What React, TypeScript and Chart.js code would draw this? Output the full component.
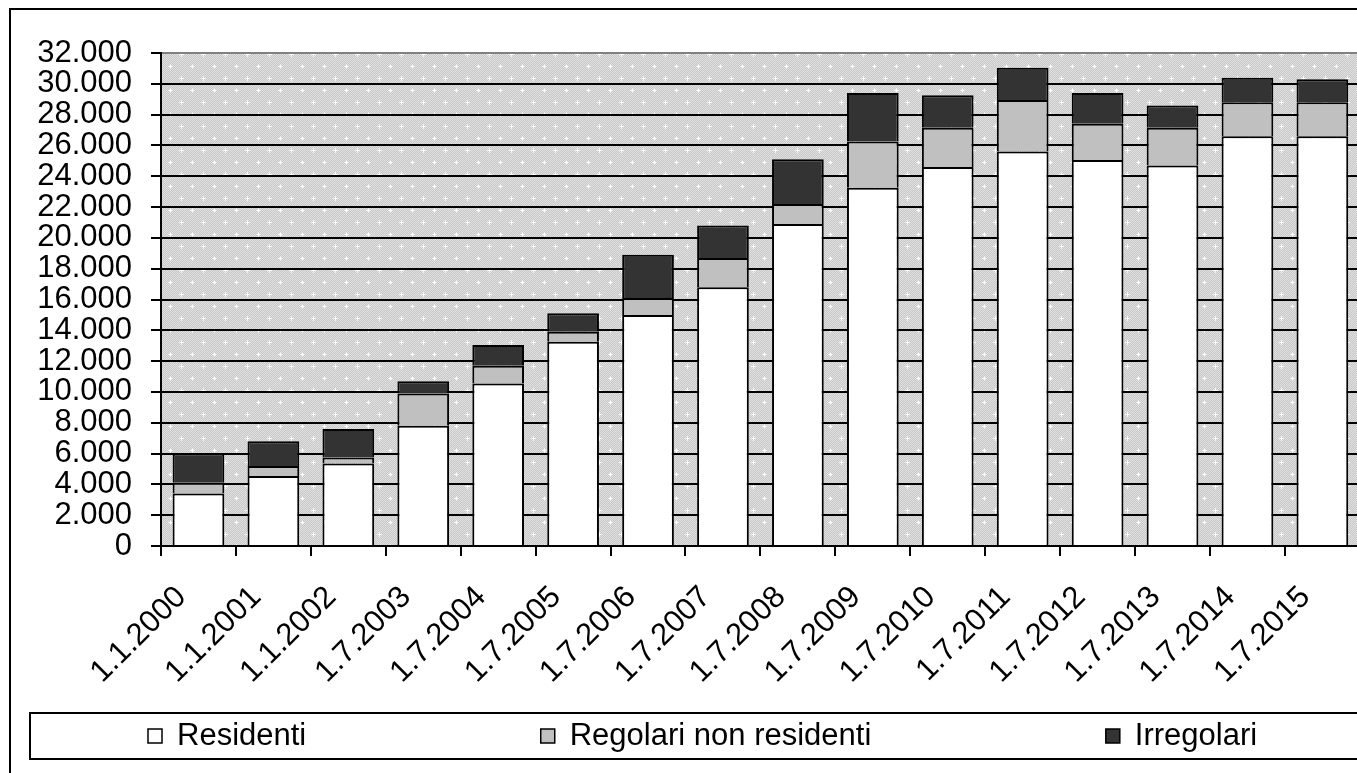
import React, { useEffect, useRef } from "react";
import { Chart, registerables } from "chart.js";

Chart.register(...registerables);

const categories = [
  "1.1.2000", "1.1.2001", "1.1.2002", "1.7.2003", "1.7.2004", "1.7.2005",
  "1.7.2006", "1.7.2007", "1.7.2008", "1.7.2009", "1.7.2010", "1.7.2011",
  "1.7.2012", "1.7.2013", "1.7.2014", "1.7.2015",
];
const residenti = [3400, 4550, 5350, 7800, 10550, 13250, 15000, 16800, 20900, 23250, 24600, 25600, 25050, 24700, 26600, 26600];
const regolariNonResidenti = [700, 650, 400, 2100, 1150, 650, 1100, 1900, 1300, 3000, 2550, 3350, 2350, 2450, 2200, 2200];
const irregolari = [1900, 1600, 1850, 800, 1350, 1200, 2800, 2100, 2900, 3150, 2100, 2100, 2000, 1450, 1600, 1500];
const seriesLabels = ["Residenti", "Regolari non residenti", "Irregolari"];
const seriesColors = ["#ffffff", "#c0c0c0", "#333333"];
const yMin = 0;
const yMax = 32000;
const yStep = 2000;

const FONT_FAMILY = '"Liberation Sans", Arial, sans-serif';
const FONT_SIZE = 31;

function formatThousands(v: number): string {
  return String(v).replace(/\B(?=(\d{3})+(?!\d))/g, ".");
}

function makePattern(ctx: CanvasRenderingContext2D): CanvasPattern | string {
  const c = document.createElement("canvas");
  c.width = 22;
  c.height = 24;
  const g = c.getContext("2d");
  if (!g) return "#d8d8d8";
  for (let y = 0; y < c.height; y++) {
    for (let x = 0; x < c.width; x++) {
      g.fillStyle = (x + y) % 2 ? "#c8c8c8" : "#e0e0e0";
      g.fillRect(x, y, 1, 1);
    }
  }
  const cross = (cx: number, cy: number) => {
    g.fillStyle = "#f2f2f2";
    g.fillRect(cx - 2, cy, 5, 1);
    g.fillRect(cx, cy - 2, 1, 5);
    g.fillStyle = "#ffffff";
    g.fillRect(cx - 1, cy, 3, 1);
    g.fillRect(cx, cy - 1, 1, 3);
  };
  cross(5, 6);
  cross(16, 18);
  return ctx.createPattern(c, "repeat") || "#d8d8d8";
}

const decorPlugin = {
  id: "decor",
  beforeDraw(chart: any) {
    const { ctx, chartArea: a, width, height } = chart;
    ctx.save();
    ctx.fillStyle = "#ffffff";
    ctx.fillRect(0, 0, width, height);
    ctx.strokeStyle = "#000000";
    ctx.lineWidth = 2;
    ctx.strokeRect(10, 9, width + 50, height + 50);
    ctx.fillStyle = makePattern(ctx);
    ctx.fillRect(a.left, a.top, a.right - a.left, a.bottom - a.top);
    ctx.restore();
  },
  afterDraw(chart: any) {
    const { ctx, width } = chart;
    ctx.save();
    ctx.strokeStyle = "#000000";
    ctx.lineWidth = 2;
    ctx.strokeRect(30, 713, width + 50, 46);
    ctx.font = `${FONT_SIZE}px ${FONT_FAMILY}`;
    ctx.textBaseline = "middle";
    ctx.textAlign = "left";
    const cy = 736;
    const box = 14;
    const textGap = 29;
    const itemGap = 234.5;
    let x = 148;
    chart.data.datasets.forEach((ds: any) => {
      ctx.fillStyle = ds.backgroundColor;
      ctx.fillRect(x, cy - box / 2, box, box);
      ctx.strokeStyle = "#000000";
      ctx.lineWidth = 1.5;
      ctx.strokeRect(x, cy - box / 2, box, box);
      ctx.fillStyle = "#000000";
      ctx.fillText(ds.label, x + textGap, cy);
      const w = ctx.measureText(ds.label).width;
      x += textGap + w + itemGap;
    });
    ctx.restore();
  },
};

export default function App() {
  const canvasRef = useRef<HTMLCanvasElement | null>(null);

  useEffect(() => {
    const canvas = canvasRef.current;
    if (!canvas) return;
    const values = [residenti, regolariNonResidenti, irregolari];
    const chart = new Chart(canvas, {
      type: "bar",
      data: {
        labels: categories,
        datasets: values.map((data, i) => ({
          label: seriesLabels[i],
          data,
          backgroundColor: seriesColors[i],
          borderColor: "#000000",
          borderWidth: { top: 2, left: 2, right: 2, bottom: 0 },
          borderSkipped: false,
          barPercentage: 0.69,
          categoryPercentage: 1,
        })),
      },
      options: {
        responsive: true,
        maintainAspectRatio: false,
        animation: false,
        layout: { padding: { left: 0, top: 53, right: 10, bottom: 0 } },
        plugins: {
          legend: { display: false },
          tooltip: { enabled: false },
          title: { display: false },
        },
        scales: {
          x: {
            stacked: true,
            offset: true,
            grid: {
              offset: true,
              drawOnChartArea: false,
              drawTicks: true,
              tickLength: 10,
              color: "#000000",
              lineWidth: 2,
            },
            border: { display: true, color: "#000000", width: 2 },
            ticks: {
              autoSkip: false,
              maxRotation: 45,
              minRotation: 45,
              labelOffset: -17,
              padding: 23,
              color: "#000000",
              font: { family: FONT_FAMILY, size: FONT_SIZE },
            },
            afterFit(scale: any) {
              scale.height = 227;
            },
          },
          y: {
            stacked: true,
            min: yMin,
            max: yMax,
            grid: {
              color: (c: any) => (c.tick && c.tick.value === yMax ? "#808080" : "#000000"),
              tickColor: "#000000",
              lineWidth: 2,
              drawTicks: true,
              tickLength: 10,
            },
            border: { display: true, color: "#000000", width: 2 },
            ticks: {
              autoSkip: false,
              stepSize: yStep,
              padding: 19,
              color: "#000000",
              font: { family: FONT_FAMILY, size: FONT_SIZE },
              callback: (v: any) => formatThousands(Number(v)),
            },
            afterFit(scale: any) {
              scale.width = 161;
            },
          },
        },
      },
      plugins: [decorPlugin],
    });
    return () => chart.destroy();
  }, []);

  return (
    <div style={{ position: "fixed", left: 0, top: 0, width: 1357, height: 773, overflow: "hidden", background: "#fff" }}>
      <div style={{ position: "absolute", left: 0, top: 0, width: 1372, height: 773 }}>
        <canvas ref={canvasRef} />
      </div>
    </div>
  );
}
